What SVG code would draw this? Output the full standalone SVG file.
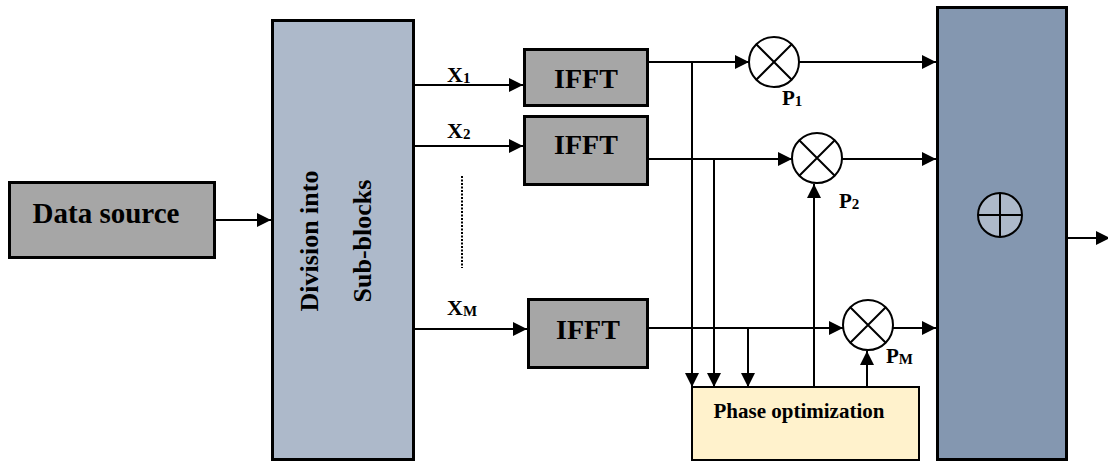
<svg xmlns="http://www.w3.org/2000/svg" width="1108" height="462" viewBox="0 0 1108 462">
<style>
text{font-family:'Liberation Serif','Times New Roman',Times,serif;font-weight:bold;fill:#000}
.ln{stroke:#000;stroke-width:2;fill:none}
.box{stroke:#000;stroke-width:3}
.mul{fill:#fff;stroke:#000;stroke-width:2}
</style>
<defs>
<marker id="ah" markerUnits="userSpaceOnUse" markerWidth="16" markerHeight="16" refX="14" refY="7.5" orient="auto">
<path d="M0,0.5 L14,7.5 L0,14.5 z" fill="#000"/>
</marker>
</defs>
<g id="data-source">
<rect class="box" x="9.5" y="182.5" width="205" height="75" fill="#a6a6a6"/>
<text x="106" y="223" font-size="29" text-anchor="middle">Data source</text>
</g>
<g id="division">
<rect class="box" x="272.5" y="20.5" width="141" height="439" fill="#adb9ca"/>
<text font-size="26" text-anchor="middle" transform="translate(318,241) rotate(-90)">Division into</text>
<text font-size="26" text-anchor="middle" transform="translate(371,241) rotate(-90)">Sub-blocks</text>
</g>
<g id="ifft1">
<rect class="box" x="524.5" y="49.5" width="123" height="56" fill="#a6a6a6"/>
<text x="586" y="88" font-size="28" text-anchor="middle">IFFT</text>
</g>
<g id="ifft2">
<rect class="box" x="524.5" y="116.5" width="123" height="68" fill="#a6a6a6"/>
<text x="586" y="154" font-size="28" text-anchor="middle">IFFT</text>
</g>
<g id="ifftm">
<rect class="box" x="528.5" y="299.5" width="119" height="68" fill="#a6a6a6"/>
<text x="588" y="339" font-size="28" text-anchor="middle">IFFT</text>
</g>
<g id="mul1">
<circle class="mul" cx="774" cy="62" r="25"/>
<path class="ln" d="M756,44 L792,80 M792,44 L756,80"/>
<text x="782" y="105" font-size="21">P<tspan font-size="15" dy="1">1</tspan></text>
</g>
<g id="mul2">
<circle class="mul" cx="817" cy="158" r="25"/>
<path class="ln" d="M799,140 L835,176 M835,140 L799,176"/>
<text x="839" y="208" font-size="21">P<tspan font-size="15" dy="1">2</tspan></text>
</g>
<g id="mulm">
<circle class="mul" cx="868" cy="325" r="25"/>
<path class="ln" d="M850,307 L886,343 M886,307 L850,343"/>
<text x="886" y="363" font-size="21">P<tspan font-size="15" dy="1">M</tspan></text>
</g>
<g id="phase-opt">
<rect x="692" y="387" width="227" height="73" fill="#fff2cc" stroke="#000" stroke-width="2"/>
<text x="799" y="418" font-size="21" text-anchor="middle">Phase optimization</text>
</g>
<g id="sum">
<rect class="box" x="937.5" y="7.5" width="129" height="452" fill="#8497b0"/>
<circle cx="1000" cy="215" r="22" fill="#adb9ca" stroke="#000" stroke-width="2"/>
<path class="ln" d="M978,215 L1022,215 M1000,193 L1000,237"/>
</g>
<g id="labels">
<text x="447" y="82" font-size="22">X<tspan font-size="15" dy="1">1</tspan></text>
<text x="447" y="138" font-size="22">X<tspan font-size="15" dy="1">2</tspan></text>
<text x="447" y="315" font-size="22">X<tspan font-size="15" dy="1">M</tspan></text>
</g>
<g id="connectors">
<line class="ln" x1="216" y1="220" x2="271" y2="220" marker-end="url(#ah)"/>
<line class="ln" x1="415" y1="85" x2="523" y2="85" marker-end="url(#ah)"/>
<line class="ln" x1="415" y1="146" x2="523" y2="146" marker-end="url(#ah)"/>
<line class="ln" x1="415" y1="329" x2="527" y2="329" marker-end="url(#ah)"/>
<line class="ln" x1="462" y1="176" x2="462" y2="268" stroke-dasharray="2 1.5"/>
<line class="ln" x1="649" y1="62" x2="749" y2="62" marker-end="url(#ah)"/>
<line class="ln" x1="799" y1="62" x2="936" y2="62" marker-end="url(#ah)"/>
<line class="ln" x1="649" y1="159" x2="792" y2="159" marker-end="url(#ah)"/>
<line class="ln" x1="842" y1="159" x2="936" y2="159" marker-end="url(#ah)"/>
<line class="ln" x1="649" y1="328" x2="843" y2="328" marker-end="url(#ah)"/>
<line class="ln" x1="893" y1="328" x2="936" y2="328" marker-end="url(#ah)"/>
<line class="ln" x1="692" y1="62" x2="692" y2="387" marker-end="url(#ah)"/>
<line class="ln" x1="714" y1="159" x2="714" y2="387" marker-end="url(#ah)"/>
<line class="ln" x1="748" y1="328" x2="748" y2="387" marker-end="url(#ah)"/>
<line class="ln" x1="814" y1="387" x2="814" y2="184" marker-end="url(#ah)"/>
<line class="ln" x1="867" y1="387" x2="867" y2="351" marker-end="url(#ah)"/>
<line class="ln" x1="1068" y1="238" x2="1110" y2="238" marker-end="url(#ah)"/>
</g>
</svg>
